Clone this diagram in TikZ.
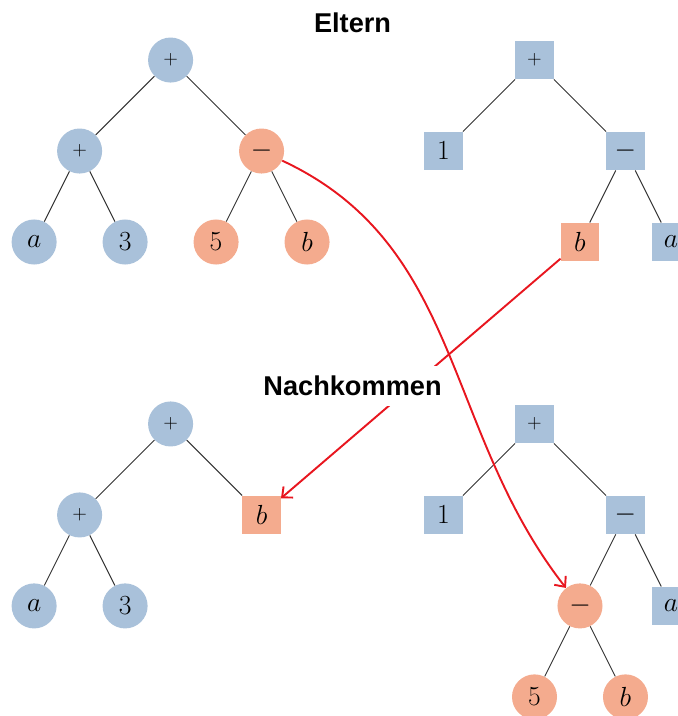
\documentclass[tikz,border=0pt]{standalone}
\usepackage{fontspec}
\newfontfamily\headfont{Liberation Sans}
\usetikzlibrary{positioning, arrows.meta, calc}
\definecolor{nodeblue}{HTML}{A9C1DA}
\definecolor{nodeorange}{HTML}{F4AB8E}
\definecolor{swapred}{HTML}{E8161F}
\tikzset{arr/.style={draw=swapred, line width=1.2pt, -{Straight Barb[length=1.8mm, width=3.2mm]}}}

\begin{document}
\begin{tikzpicture}[
      node distance=2cm and 2cm, on grid,
      every node/.style={inner sep=0pt, font=\fontsize{19}{22}\selectfont},
      bc/.style={circle, fill=nodeblue, minimum size=0.99cm},
      oc/.style={circle, fill=nodeorange, minimum size=0.99cm},
      bs/.style={rectangle, fill=nodeblue, minimum size=0.84cm},
      os/.style={rectangle, fill=nodeorange, minimum size=0.84cm},
      op/.style={font=\fontsize{13}{16}\selectfont},
      branch/.style={draw=black!80, line width=0.6pt},
      heading/.style={fill=white, inner sep=0.22cm, font=\headfont\bfseries\fontsize{17}{20}\selectfont},
  ]
      \useasboundingbox (0,0) rectangle (14.90,-15.74);

      % Eltern, left tree: (a+3)+(5-b)
      \node[bc, op] (e1root) at (3.75,-1.32) {$+$};
      \node[bc, op, below left=of e1root] (e1add) {$+$};
      \node[oc, below right=of e1root] (e1sub) {$-$};
      \node[bc, below left=2cm and 1cm of e1add] (e1a) {$a$};
      \node[bc, below right=2cm and 1cm of e1add] (e1three) {$3$};
      \node[oc, below left=2cm and 1cm of e1sub] (e1five) {$5$};
      \node[oc, below right=2cm and 1cm of e1sub] (e1b) {$b$};

      % Eltern, right tree: 1+(b-a)
      \node[bs, op, right=8cm of e1root] (e2root) {$+$};
      \node[bs, below left=of e2root] (e2one) {$1$};
      \node[bs, below right=of e2root] (e2sub) {$-$};
      \node[os, below left=2cm and 1cm of e2sub] (e2b) {$b$};
      \node[bs, below right=2cm and 1cm of e2sub] (e2a) {$a$};

      % Nachkommen, left tree: (a+3)+b
      \node[bc, op, below=8cm of e1root] (n1root) {$+$};
      \node[bc, op, below left=of n1root] (n1add) {$+$};
      \node[os, below right=of n1root] (n1b) {$b$};
      \node[bc, below left=2cm and 1cm of n1add] (n1a) {$a$};
      \node[bc, below right=2cm and 1cm of n1add] (n1three) {$3$};

      % Nachkommen, right tree: 1+((5-b)-a)
      \node[bs, op, below=8cm of e2root] (n2root) {$+$};
      \node[bs, below left=of n2root] (n2one) {$1$};
      \node[bs, below right=of n2root] (n2sub) {$-$};
      \node[oc, below left=2cm and 1cm of n2sub] (n2subsub) {$-$};
      \node[bs, below right=2cm and 1cm of n2sub] (n2a) {$a$};
      \node[oc, below left=2cm and 1cm of n2subsub] (n2five) {$5$};
      \node[oc, below right=2cm and 1cm of n2subsub] (n2b) {$b$};

      % Branches
      \draw[branch] (e1root) -- (e1add);
      \draw[branch] (e1root) -- (e1sub);
      \draw[branch] (e1add) -- (e1a);
      \draw[branch] (e1add) -- (e1three);
      \draw[branch] (e1sub) -- (e1five);
      \draw[branch] (e1sub) -- (e1b);

      \draw[branch] (e2root) -- (e2one);
      \draw[branch] (e2root) -- (e2sub);
      \draw[branch] (e2sub) -- (e2b);
      \draw[branch] (e2sub) -- (e2a);

      \draw[branch] (n1root) -- (n1add);
      \draw[branch] (n1root) -- (n1b);
      \draw[branch] (n1add) -- (n1a);
      \draw[branch] (n1add) -- (n1three);

      \draw[branch] (n2root) -- (n2one);
      \draw[branch] (n2root) -- (n2sub);
      \draw[branch] (n2sub) -- (n2subsub);
      \draw[branch] (n2sub) -- (n2a);
      \draw[branch] (n2subsub) -- (n2five);
      \draw[branch] (n2subsub) -- (n2b);

      % Crossover: swapped subtrees
      \draw[arr] (e1sub) to[out=-25, in=128] (n2subsub);
      \draw[arr] (e2b) -- (n1b);

      % Headings last, so they cover the arrows
      \node[heading, above=0.81cm of $(e1root)!0.5!(e2root)$, anchor=center] (eltern) {Eltern};
      \node[heading, above=0.83cm of $(n1root)!0.5!(n2root)$, anchor=center] (nachkommen) {Nachkommen};

\end{tikzpicture}
\end{document}
